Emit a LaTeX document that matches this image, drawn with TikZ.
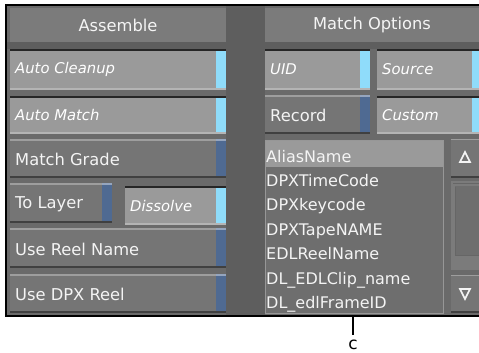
\documentclass[tikz,border=0pt]{standalone}
\usepackage{fontspec}
\setmainfont{DejaVu Sans}

\definecolor{panel}{HTML}{6A6A6A}
\definecolor{gutter}{HTML}{5E5E5E}
\definecolor{header}{HTML}{7B7B7B}
\definecolor{btnon}{HTML}{9A9A9A}
\definecolor{btnoff}{HTML}{757575}
\definecolor{btnlit}{HTML}{B4B4B4}
\definecolor{ledon}{HTML}{8FDCFA}
\definecolor{ledoff}{HTML}{4F6A92}
\definecolor{listbg}{HTML}{6E6E6E}
\definecolor{listsel}{HTML}{9A9A9A}
\definecolor{listedge}{HTML}{979797}
\definecolor{uitext}{HTML}{F4F4F4}

% pressed button: x1,y1,x2,y2,name,label
\newcommand{\btnOn}[6]{%
  \fill[btnon] (#1,#2) rectangle (#3,#4);
  \fill[ledon] ({#3-10},#2) rectangle (#3,#4);
  \draw[line width=2pt,black!85] (#1,#2) -- (#3,#2);
  \draw[line width=2pt,btnlit] (#1,#4) -- (#3,#4);
  \node[onlbl] (#5) at ({#1+5},{(#2+#4)/2}) {#6};
}
% released button: x1,y1,x2,y2,name,label
\newcommand{\btnOff}[6]{%
  \fill[btnoff] (#1,#2) rectangle (#3,#4);
  \fill[ledoff] ({#3-10},#2) rectangle (#3,#4);
  \draw[line width=1.5pt,black!12!btnlit] (#1,#2) -- ({#3-10},#2);
  \draw[line width=1.5pt,ledoff!60!white] ({#3-10},#2) -- (#3,#2);
  \draw[line width=2.5pt,black!75] (#1,#4) -- (#3,#4);
  \node[offlbl] (#5) at ({#1+5},{(#2+#4)/2+1}) {#6};
}

\begin{document}
\begin{tikzpicture}[x=1pt,y=1pt,yscale=-1,
  headlbl/.style={text=uitext,font=\fontsize{16.3}{18}\selectfont,inner sep=0pt},
  offlbl/.style={anchor=west,text=uitext,font=\fontsize{16.3}{18}\selectfont,inner sep=0pt},
  onlbl/.style={anchor=west,text=white,font=\fontsize{14.8}{17}\selectfont\itshape,inner sep=0pt},
  rowlbl/.style={anchor=base west,text=uitext,font=\fontsize{16}{18}\selectfont,inner sep=0pt},
  callout/.style={anchor=north,font=\fontsize{17}{19}\selectfont,inner sep=0pt}]
\useasboundingbox (0,0) rectangle (479,353);

% panel and frame
\fill[panel] (6,5) rectangle (479,316);
\fill[gutter] (226,5) rectangle (265,316);
\fill[gutter] (6,42) rectangle (479,49);
\draw[line width=2pt] (479,5) -- (6,5) -- (6,316) -- (479,316);

% column headers
\fill[header] (10,8) rectangle (226,42);
\fill[header] (265,8) rectangle (479,42);
\node[headlbl] (assemble) at (118,25) {Assemble};
\node[headlbl] (matchopts) at (372,25) {Match Options};

% left column
\btnOn{10}{50}{226}{89}{cleanup}{Auto Cleanup}
\btnOn{10}{97}{226}{133}{automatch}{Auto Match}
\btnOff{10}{140}{226}{177}{grade}{Match Grade}
\btnOff{10}{184}{112}{222}{tolayer}{To Layer}
\btnOn{125}{187}{226}{224}{dissolve}{Dissolve}
\btnOff{10}{229}{226}{267}{reelname}{Use Reel Name}
\btnOff{10}{275}{226}{312}{dpxreel}{Use DPX Reel}

% right column
\btnOn{265}{50}{370}{89}{uid}{UID}
\btnOn{377}{50}{482}{89}{source}{Source}
\btnOff{265}{96}{370}{133}{record}{Record}
\btnOn{377}{97}{482}{133}{custom}{Custom}

% field list
\fill[listbg] (265,140) rectangle (444,314);
\fill[listsel] (266,141) rectangle (443,167);
\draw[listedge,line width=1pt] (265.5,140.5) rectangle (443.5,313.5);
\foreach \fld [count=\i from 0] in {AliasName,DPXTimeCode,DPXkeycode,DPXTapeNAME,EDLReelName,DL\_EDLClip\_name,DL\_edlFrameID}
  \node[rowlbl] (row\i) at (266,{162+24.4*\i}) {\fld};

% scroll bar
\fill[btnoff] (451,139) rectangle (479,177);
\draw[line width=1.5pt,black!12!btnlit] (451,139.5) -- (479,139.5);
\draw[line width=2.5pt,black!75] (451,177) -- (479,177);
\draw[line width=1.6pt,uitext] (465,152) -- (470,162) -- (460,162) -- cycle;
\fill[header] (451,181) rectangle (479,270);
\fill[listbg] (455,186) rectangle (479,255);
\draw[line width=1pt,black!60] (455.5,186.5) -- (455.5,255.5) -- (479,255.5);
\draw[line width=1pt,black!60] (453,183) -- (479,183);
\fill[btnoff] (451,275) rectangle (479,312);
\draw[line width=1.5pt,black!12!btnlit] (451,275.5) -- (479,275.5);
\draw[line width=2.5pt,black!75] (451,312) -- (479,312);
\draw[line width=1.6pt,uitext] (460,289) -- (470,289) -- (465,299) -- cycle;

% callout
\coordinate (fieldtip) at (353,316);
\node[callout] (c) at (353,340) {c};
\draw[line width=2pt,shorten >=5pt] (fieldtip) -- (c.north);
\end{tikzpicture}
\end{document}
